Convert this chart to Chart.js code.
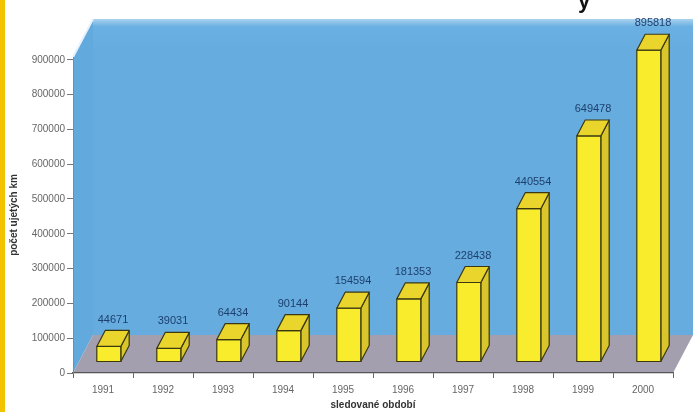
<!DOCTYPE html>
<html>
<head>
<meta charset="utf-8">
<script src="https://cdn.jsdelivr.net/npm/chart.js@4/dist/chart.umd.min.js"></script>
<style>
  html,body{margin:0;padding:0;background:#fff;}
  #wrap{width:698px;height:412px;position:relative;}
</style>
</head>
<body>
<div id="wrap"><canvas id="c" width="698" height="412"></canvas></div>
<script>
const years = ['1991','1992','1993','1994','1995','1996','1997','1998','1999','2000'];
const km = [44671, 39031, 64434, 90144, 154594, 181353, 228438, 440554, 649478, 895818];
const yTicks = [0,100000,200000,300000,400000,500000,600000,700000,800000,900000];
const yTitle = 'počet ujetých km';
const xTitle = 'sledované období';

// 3D look: depth of floor/wall, bar placed in the middle of it
const DEPTH = { x: 20, y: -38 };
const BAR_FRONT = 0.29, BAR_DEPTH = 0.42;

const poly = (ctx, pts, fill, stroke) => {
  ctx.beginPath();
  pts.forEach((p,i)=> i ? ctx.lineTo(p[0],p[1]) : ctx.moveTo(p[0],p[1]));
  ctx.closePath();
  ctx.fillStyle = fill; ctx.fill();
  if (stroke){ ctx.strokeStyle = stroke; ctx.lineWidth = 1.2; ctx.lineJoin = 'round'; ctx.stroke(); }
};

const room = {
  id: 'room',
  beforeDraw(chart){
    const { ctx, chartArea: a } = chart;
    const dx = DEPTH.x, dy = DEPTH.y;
    ctx.save();
    // yellow page strip on the left
    ctx.fillStyle = '#f4c300';
    ctx.fillRect(0, 0, 5, chart.height);
    // cut-off title fragment
    ctx.fillStyle = '#111';
    ctx.font = 'bold 22px "Liberation Sans", Arial, sans-serif';
    ctx.textAlign = 'center';
    ctx.textBaseline = 'alphabetic';
    ctx.fillText('y', 584, 8);
    // side wall + back wall
    poly(ctx, [[a.left,a.top],[a.left+dx,a.top+dy],[a.left+dx,a.bottom+dy],[a.left,a.bottom]], '#62a9dd');
    const g = ctx.createLinearGradient(0, a.top+dy, 0, a.top+dy+30);
    g.addColorStop(0, '#a9d2ef'); g.addColorStop(0.25, '#6bb0e2'); g.addColorStop(1, '#66acdf');
    poly(ctx, [[a.left+dx,a.top+dy],[a.right+dx,a.top+dy],[a.right+dx,a.bottom+dy],[a.left+dx,a.bottom+dy]], g);
    // light edge on the top left
    ctx.strokeStyle = '#e8f2fa'; ctx.lineWidth = 2;
    ctx.beginPath(); ctx.moveTo(a.left,a.top); ctx.lineTo(a.left+dx,a.top+dy); ctx.stroke();
    // floor
    poly(ctx, [[a.left,a.bottom],[a.right,a.bottom],[a.right+dx,a.bottom+dy],[a.left+dx,a.bottom+dy]], '#a49fae');
    ctx.restore();
  },
  afterDatasetsDraw(chart){
    const { ctx } = chart;
    const meta = chart.getDatasetMeta(0);
    const fx = DEPTH.x*BAR_FRONT, fy = DEPTH.y*BAR_FRONT;
    const bx = DEPTH.x*BAR_DEPTH, by = DEPTH.y*BAR_DEPTH;
    ctx.save();
    meta.data.forEach((bar, i)=>{
      const { x, y, base, width } = bar.getProps(['x','y','base','width'], true);
      const xl = x - width/2 + fx, xr = x + width/2 + fx;
      const yt = y + fy, yb = base + fy;
      poly(ctx, [[xr,yt],[xr+bx,yt+by],[xr+bx,yb+by],[xr,yb]], '#d9c62c', '#3b3810');
      poly(ctx, [[xl,yt],[xr,yt],[xr,yb],[xl,yb]], '#f8ec2c', '#3b3810');
      poly(ctx, [[xl,yt],[xr,yt],[xr+bx,yt+by],[xl+bx,yt+by]], '#ead52c', '#3b3810');
      ctx.fillStyle = '#1d3f6e';
      ctx.font = '11px "Liberation Sans", Arial, sans-serif';
      ctx.textAlign = 'center';
      ctx.textBaseline = 'middle';
      ctx.fillText(String(km[i]), (xl+xr)/2 + bx/2, yt + by - 11);
    });
    ctx.restore();
  }
};

new Chart(document.getElementById('c'), {
  type: 'bar',
  data: { labels: years, datasets: [{ data: km, backgroundColor: 'transparent', borderWidth: 0, categoryPercentage: 1, barPercentage: 0.4 }] },
  options: {
    responsive: false, animation: false,
    layout: { padding: { left: 0, top: 57, right: 25, bottom: 0 } },
    plugins: { legend: { display: false }, tooltip: { enabled: false } },
    scales: {
      x: {
        grid: { drawOnChartArea: false, tickLength: 5, color: '#666', offset: true },
        border: { color: '#555', width: 1.2 },
        ticks: { color: '#666', padding: 6, font: { size: 10, family: '"Liberation Sans", Arial, sans-serif' } },
        title: { display: true, text: xTitle, color: '#333', padding: { top: 0, bottom: 1 }, font: { size: 10, weight: 'bold', family: '"Liberation Sans", Arial, sans-serif' } },
        afterFit: s => { s.height = 39; }
      },
      y: {
        min: 0, max: 908000,
        afterBuildTicks: s => { s.ticks = yTicks.map(v => ({ value: v })); },
        grid: { drawOnChartArea: false, tickLength: 6, color: '#777' },
        border: { color: '#888', width: 1 },
        ticks: { color: '#666', padding: 2, callback: v => String(v), font: { size: 10, family: '"Liberation Sans", Arial, sans-serif' } },
        title: { display: true, text: yTitle, color: '#333', padding: { top: 8, bottom: 0 }, font: { size: 10, weight: 'bold', family: '"Liberation Sans", Arial, sans-serif' } },
        afterFit: s => { s.width = 73; }
      }
    }
  },
  plugins: [room]
});
</script>
</body>
</html>
